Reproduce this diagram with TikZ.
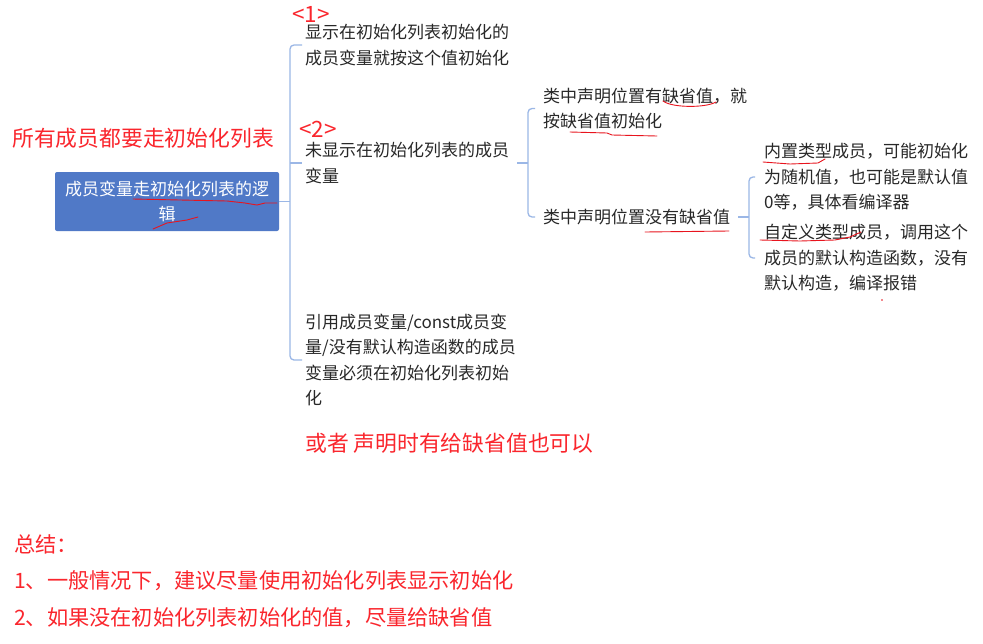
\documentclass[tikz,border=0pt]{standalone}
\usepackage{fontspec}
\setmainfont{Noto Sans CJK SC}
\definecolor{boxblue}{RGB}{80,121,199}
\definecolor{brblue}{RGB}{155,183,230}
\definecolor{txtgray}{RGB}{40,40,40}
\definecolor{redtxt}{RGB}{250,38,45}
\definecolor{redmark}{RGB}{232,20,30}
\begin{document}
\begin{tikzpicture}[x=1pt,y=-1pt,
  txt/.style={inner sep=0pt, anchor=west, align=left, text=txtgray, font=\fontsize{17}{25.5}\selectfont},
  lbl/.style={inner sep=0pt, anchor=west, text=redtxt, font=\fontsize{22.5}{26}\selectfont},
  redbig/.style={inner sep=0pt, anchor=west, text=redtxt, font=\fontsize{21.8}{26}\selectfont},
  redsum/.style={inner sep=0pt, anchor=west, text=redtxt, font=\fontsize{21.2}{26}\selectfont},
  rootbox/.style={fill=boxblue, rounded corners=2pt, minimum width=224pt, minimum height=59pt, inner sep=0pt, align=center, text=white, font=\fontsize{17}{25}\selectfont},
  br/.style={draw=brblue, line width=1.3pt},
  scribble/.style={draw=redmark, line width=0.9pt, line join=round, line cap=round}
]
\useasboundingbox[fill=white] (0,0) rectangle (983,643);

% root
\node[rootbox] (root) at (167,201.5) {成员变量走初始化列表的逻\\辑};
\node[redbig] (t1) at (12,138) {所有成员都要走初始化列表};

% level 1
\node[lbl] (n1) at (292,14) {<1>};
\node[txt] (c1) at (305,45) {显示在初始化列表初始化的\\成员变量就按这个值初始化};
\node[lbl] (n2) at (299,129) {<2>};
\node[txt] (c2) at (305,163) {未显示在初始化列表的成员\\变量};
\node[txt] (c3) at (305,360) {引用成员变量/const成员变\\量/没有默认构造函数的成员\\变量必须在初始化列表初始\\化};

% level 2
\node[txt] (d1) at (543,108.5) {类中声明位置有缺省值，就\\按缺省值初始化};
\node[txt] (d2) at (543,217) {类中声明位置没有缺省值};

% level 3
\node[txt] (e1) at (764,177) {内置类型成员，可能初始化\\为随机值，也可能是默认值\\0等，具体看编译器};
\node[txt] (e2) at (764,258) {自定义类型成员，调用这个\\成员的默认构造函数，没有\\默认构造，编译报错};

% notes
\node[redbig] (t2) at (305,443) {或者 声明时有给缺省值也可以};
\node[redsum] (s0) at (14,544) {总结：};
\node[redsum] (s1) at (14,581) {1、一般情况下，建议尽量使用初始化列表显示初始化};
\node[redsum] (s2) at (14,618) {2、如果没在初始化列表初始化的值，尽量给缺省值};

% brackets
\coordinate (b1) at (290,201.5);
\draw[br] (root.east) -- (b1);
\draw[br, rounded corners=4pt] ([xshift=-3pt]c1.west) -| (b1) |- ([xshift=-3pt]c3.west);
\draw[br] (b1 |- c2.west) -- ([xshift=-3pt]c2.west);

\coordinate (b2) at (528,163);
\draw[br] ([xshift=8pt]c2.east) -- (b2);
\draw[br, rounded corners=4pt] ([xshift=-8pt]d1.west) -| (b2) |- ([xshift=-8pt]d2.west);

\coordinate (b3) at (749,217);
\draw[br] ([xshift=8pt]d2.east) -- (b3);
\draw[br, rounded corners=4pt] ([xshift=-9pt]e1.west) -| (b3) |- ([xshift=-9pt]e2.west);

% hand-drawn red marks
\draw[scribble] (133,199) -- (180,200) -- (227,201) -- (245,203) -- (257,205) -- (265,203) -- (277,203);
\draw[scribble] (153,229) -- (160,226) -- (167,223) -- (187,220) -- (198,217);
\draw[scribble] (663,101) .. controls (672,108) and (706,108) .. (716,102);
\draw[scribble] (570,132) -- (607,133) -- (612,135) -- (657,136);
\draw[scribble] (645,232) -- (729,231);
\draw[scribble] (763,162) -- (790,164) -- (818,163) -- (825,159);
\draw[scribble] (760,240) -- (800,241) -- (835,240) -- (850,237) -- (861,232);
\fill[redmark] (882,300) circle (0.8pt);
\end{tikzpicture}
\end{document}
